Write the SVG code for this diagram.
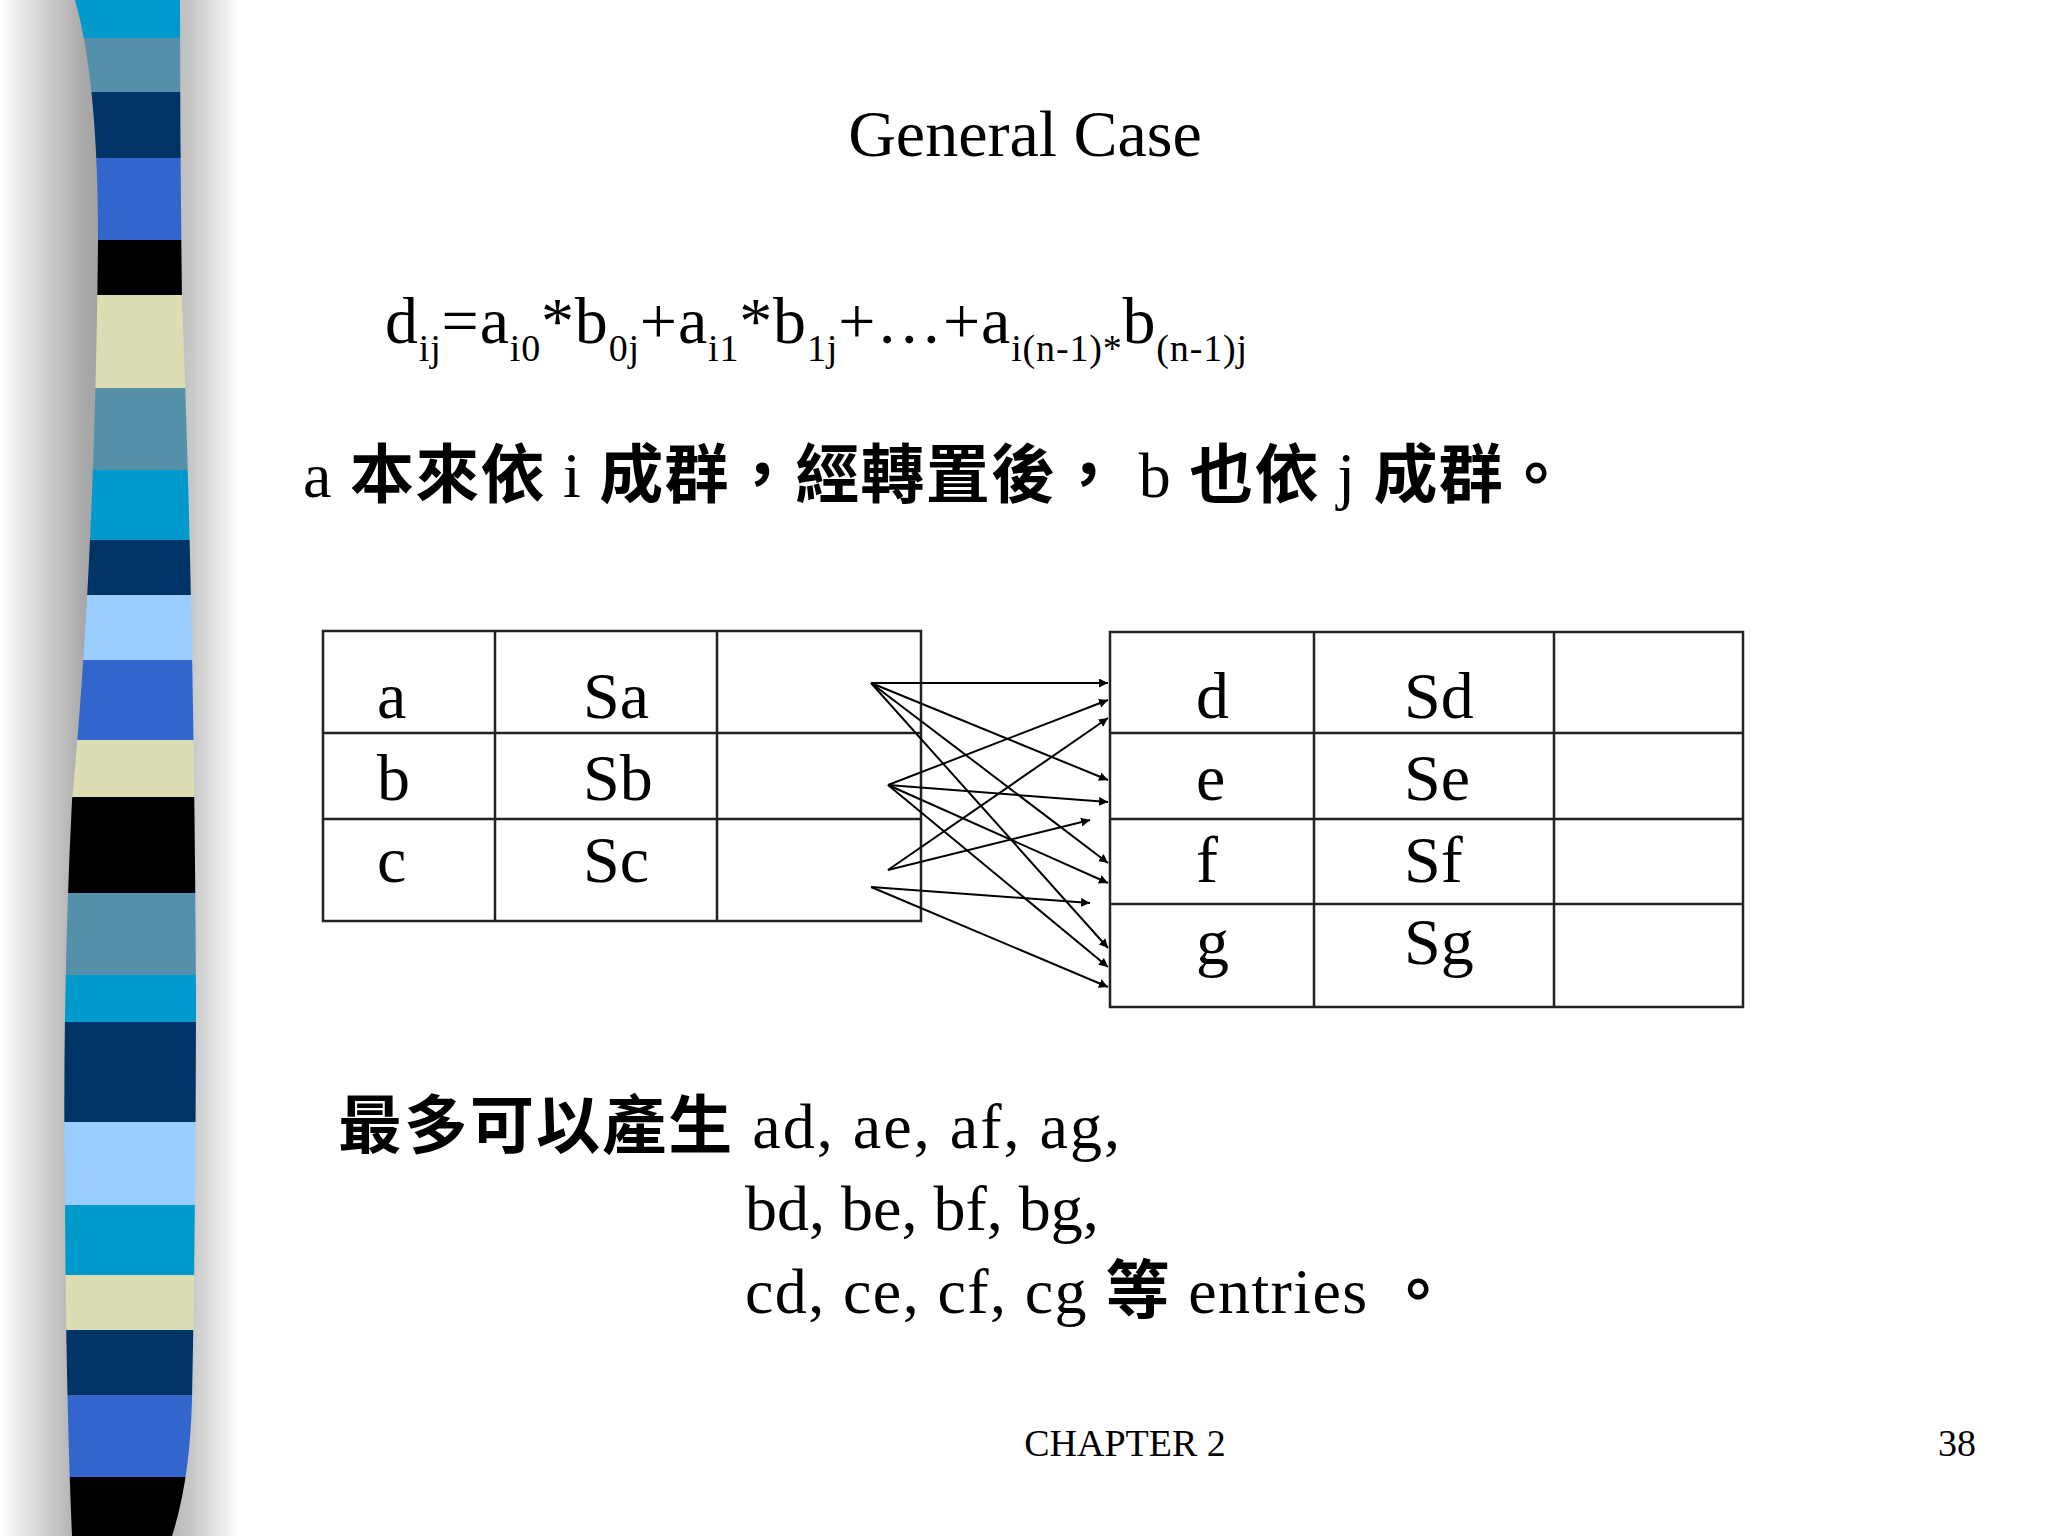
<svg xmlns="http://www.w3.org/2000/svg" width="2048" height="1536" viewBox="0 0 2048 1536">
<defs>
<linearGradient id="sh" x1="0" y1="0" x2="240" y2="0" gradientUnits="userSpaceOnUse">
<stop offset="0" stop-color="#fff"/><stop offset="0.35" stop-color="#a8a8a8"/><stop offset="0.55" stop-color="#999"/><stop offset="0.8" stop-color="#c8c8c8"/><stop offset="1" stop-color="#fff"/>
</linearGradient>
<clipPath id="bar"><path d="M75 0 Q98 80 98 240 Q95 560 72 800 Q62 1000 65 1200 Q66 1400 72 1536 L172 1536 Q190 1480 192 1400 Q196 1200 196 1000 Q194 600 182 300 Q180 150 180 0 Z"/></clipPath>
<marker id="ah" viewBox="0 0 10 10" refX="10" refY="5" markerWidth="9" markerHeight="9" markerUnits="userSpaceOnUse" orient="auto"><path d="M0 0L10 5L0 10z" fill="#000"/></marker>
<style>
.t{font-family:"Liberation Serif","Times New Roman",serif;fill:#000}
.c{font-family:"Liberation Serif","Noto Sans CJK TC",serif;fill:#000}
.k{font-weight:bold}
.g rect,.g line{fill:none;stroke:#222;stroke-width:2.5}
.cn line{stroke:#000;stroke-width:2;marker-end:url(#ah)}
</style>
</defs>
<rect width="2048" height="1536" fill="#fff"/>
<rect x="0" y="0" width="240" height="1536" fill="url(#sh)"/>
<g clip-path="url(#bar)">
<rect x="0" y="0" width="240" height="38" fill="#0099cc"/>
<rect x="0" y="38" width="240" height="54" fill="#5590aa"/>
<rect x="0" y="92" width="240" height="66" fill="#003366"/>
<rect x="0" y="158" width="240" height="82" fill="#3366cc"/>
<rect x="0" y="240" width="240" height="55" fill="#000"/>
<rect x="0" y="295" width="240" height="93" fill="#ddddb3"/>
<rect x="0" y="388" width="240" height="82" fill="#5590aa"/>
<rect x="0" y="470" width="240" height="70" fill="#0099cc"/>
<rect x="0" y="540" width="240" height="55" fill="#003366"/>
<rect x="0" y="595" width="240" height="65" fill="#99ccff"/>
<rect x="0" y="660" width="240" height="80" fill="#3366cc"/>
<rect x="0" y="740" width="240" height="57" fill="#ddddb3"/>
<rect x="0" y="797" width="240" height="96" fill="#000"/>
<rect x="0" y="893" width="240" height="82" fill="#5590aa"/>
<rect x="0" y="975" width="240" height="47" fill="#0099cc"/>
<rect x="0" y="1022" width="240" height="100" fill="#003366"/>
<rect x="0" y="1122" width="240" height="83" fill="#99ccff"/>
<rect x="0" y="1205" width="240" height="70" fill="#0099cc"/>
<rect x="0" y="1275" width="240" height="55" fill="#ddddb3"/>
<rect x="0" y="1330" width="240" height="65" fill="#003366"/>
<rect x="0" y="1395" width="240" height="82" fill="#3366cc"/>
<rect x="0" y="1477" width="240" height="59" fill="#000"/>
</g>
<text class="t" x="1025" y="156" font-size="66" text-anchor="middle">General Case</text>
<text class="t" x="385" y="343" font-size="66" textLength="862" lengthAdjust="spacing">d<tspan font-size="38" dy="18">ij</tspan><tspan dy="-18">=a</tspan><tspan font-size="38" dy="18">i0</tspan><tspan dy="-18">*b</tspan><tspan font-size="38" dy="18">0j</tspan><tspan dy="-18">+a</tspan><tspan font-size="38" dy="18">i1</tspan><tspan dy="-18">*b</tspan><tspan font-size="38" dy="18">1j</tspan><tspan dy="-18">+…+a</tspan><tspan font-size="38" dy="18">i(n-1)*</tspan><tspan dy="-18">b</tspan><tspan font-size="38" dy="18">(n-1)j</tspan></text>
<text class="c" x="303" y="497" font-size="64" textLength="1265" lengthAdjust="spacing">a <tspan class="k">本來依</tspan> i <tspan class="k">成群，經轉置後，</tspan> b <tspan class="k">也依</tspan> j <tspan class="k">成群。</tspan></text>
<g id="tableA" class="g">
<rect x="323" y="631" width="598" height="290"/>
<line x1="495" y1="631" x2="495" y2="921"/><line x1="717" y1="631" x2="717" y2="921"/>
<line x1="323" y1="733" x2="921" y2="733"/><line x1="323" y1="819" x2="921" y2="819"/>
<g class="t" font-size="66"><text x="377" y="718">a</text><text x="583" y="718">Sa</text><text x="377" y="800">b</text><text x="583" y="800">Sb</text><text x="377" y="882">c</text><text x="583" y="882">Sc</text></g>
</g>
<g id="tableB" class="g">
<rect x="1110" y="632" width="633" height="375"/>
<line x1="1314" y1="632" x2="1314" y2="1007"/><line x1="1554" y1="632" x2="1554" y2="1007"/>
<line x1="1110" y1="733" x2="1743" y2="733"/><line x1="1110" y1="819" x2="1743" y2="819"/><line x1="1110" y1="904" x2="1743" y2="904"/>
<g class="t" font-size="66"><text x="1196" y="718">d</text><text x="1404" y="718">Sd</text><text x="1196" y="800">e</text><text x="1404" y="800">Se</text><text x="1196" y="882">f</text><text x="1404" y="882">Sf</text><text x="1196" y="964">g</text><text x="1404" y="964">Sg</text></g>
</g>
<g id="connectors" class="cn">
<line x1="871" y1="683" x2="1108" y2="683"/>
<line x1="871" y1="683" x2="1108" y2="780"/>
<line x1="871" y1="683" x2="1108" y2="863"/>
<line x1="871" y1="683" x2="1108" y2="948"/>
<line x1="888" y1="785" x2="1108" y2="700"/>
<line x1="888" y1="785" x2="1108" y2="802"/>
<line x1="888" y1="785" x2="1108" y2="883"/>
<line x1="888" y1="785" x2="1108" y2="967"/>
<line x1="888" y1="870" x2="1108" y2="718"/>
<line x1="888" y1="870" x2="1090" y2="820"/>
<line x1="871" y1="887" x2="1090" y2="903"/>
<line x1="871" y1="887" x2="1108" y2="987"/>
</g>
<text class="c" x="338" y="1148" font-size="64" textLength="782" lengthAdjust="spacing"><tspan class="k">最多可以產生</tspan> ad, ae, af, ag,</text>
<text class="t" x="745" y="1230" font-size="64">bd, be, bf, bg,</text>
<text class="c" x="745" y="1313" font-size="64" textLength="705" lengthAdjust="spacing">cd, ce, cf, cg  <tspan class="k">等</tspan> entries  <tspan class="k">。</tspan></text>
<text class="t" x="1125" y="1456" font-size="38" text-anchor="middle">CHAPTER 2</text>
<text class="t" x="1976" y="1456" font-size="38" text-anchor="end">38</text>
</svg>
